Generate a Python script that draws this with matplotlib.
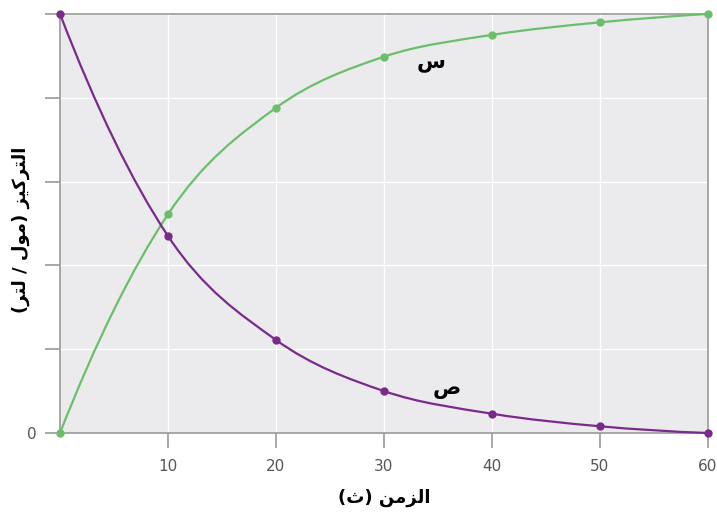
from matplotlib import pyplot as plt
from matplotlib.path import Path
from matplotlib.patches import PathPatch
import numpy as np

# time (s) and concentrations
time = [0, 10, 20, 30, 40, 50, 60]
conc_s = [0.0, 2.61, 3.88, 4.49, 4.75, 4.90, 5.0]   # green, rising
conc_p = [5.0, 2.35, 1.11, 0.50, 0.23, 0.08, 0.0]   # purple, falling

x_ticks = [10, 20, 30, 40, 50, 60]
x_tick_labels = ["10", "20", "30", "40", "50", "60"]
y_ticks = [0, 1, 2, 3, 4, 5]
y_tick_labels = ["0", "", "", "", "", ""]

# Arabic text written in visual order with presentation forms (no shaping in matplotlib)
x_label = "(\uFE99) \uFEE6\uFEE3\uFEB0\uFEDF\uFE8D"          # الزمن (ث)
y_label = ("(\uFEAE\uFE98\uFEDF / \uFEDD\uFEEE\uFEE3) "
           "\uFEB0\uFEF4\uFEDB\uFEAE\uFE98\uFEDF\uFE8D")     # التركيز (مول / لتر)
label_s = "\u0633"   # س
label_p = "\u0635"   # ص

green = "#6cbf6a"
purple = "#7a2a8a"


def smooth_path(xs, ys):
    xs = np.asarray(xs, float)
    ys = np.asarray(ys, float)
    n = len(xs)
    m = np.zeros(n)
    for i in range(1, n - 1):
        m[i] = (ys[i + 1] - ys[i - 1]) / (xs[i + 1] - xs[i - 1])
    m[0] = (-3 * ys[0] + 4 * ys[1] - ys[2]) / (xs[2] - xs[0])
    m[-1] = (3 * ys[-1] - 4 * ys[-2] + ys[-3]) / (xs[-1] - xs[-3])
    verts = [(xs[0], ys[0])]
    codes = [Path.MOVETO]
    for i in range(n - 1):
        h = xs[i + 1] - xs[i]
        verts += [(xs[i] + h / 3, ys[i] + m[i] * h / 3),
                  (xs[i + 1] - h / 3, ys[i + 1] - m[i + 1] * h / 3),
                  (xs[i + 1], ys[i + 1])]
        codes += [Path.CURVE4] * 3
    return Path(verts, codes)


fig = plt.figure(figsize=(7.17, 5.17), dpi=100)
ax = fig.add_axes([0.0837, 0.1625, 0.9037, 0.8105])
ax.set_facecolor("#ebebee")

ax.set_xlim(0, 60)
ax.set_ylim(0, 5)

ax.grid(True, color="white", linewidth=1.0)
ax.set_axisbelow(True)

for sp in ax.spines.values():
    sp.set_color("#9a9a9a")
    sp.set_linewidth(1.2)

for ys, col in [(conc_s, green), (conc_p, purple)]:
    ax.add_patch(PathPatch(smooth_path(time, ys), facecolor="none",
                           edgecolor=col, linewidth=1.6, clip_on=False, zorder=3))
    ax.plot(time, ys, "o", color=col, markersize=5, clip_on=False, zorder=4)

ax.set_xticks(x_ticks)
ax.set_xticklabels(x_tick_labels)
ax.set_yticks(y_ticks)
ax.set_yticklabels(y_tick_labels)
ax.tick_params(axis="both", direction="out", length=11, width=1.2,
               color="#9a9a9a", labelcolor="#555555", labelsize=11)
ax.tick_params(axis="x", pad=8)
ax.tick_params(axis="y", length=11, pad=6)

ax.text(34.4, 4.43, label_s, fontsize=15, fontweight="bold", ha="center", va="center")
ax.text(35.8, 0.52, label_p, fontsize=15, fontweight="bold", ha="center", va="center")

ax.set_xlabel(x_label, fontsize=13, fontweight="bold", labelpad=10)
ax.set_ylabel(y_label, fontsize=13, fontweight="bold")
ax.yaxis.set_label_coords(-0.046, 0.485)

fig.savefig("out.png", dpi=100)
